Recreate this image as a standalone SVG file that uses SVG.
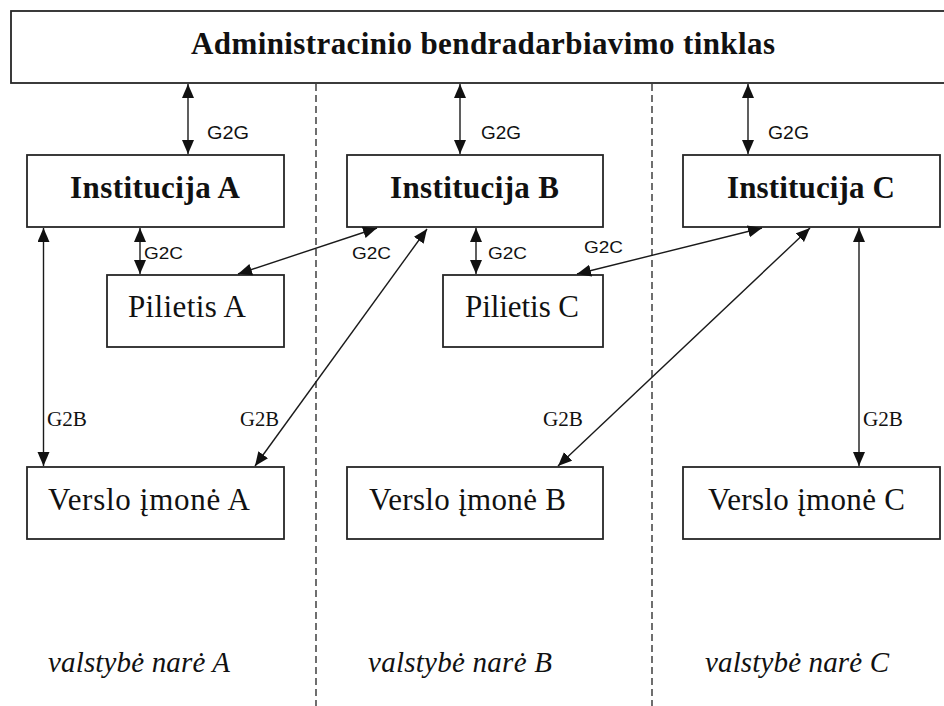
<svg xmlns="http://www.w3.org/2000/svg" width="944" height="706" viewBox="0 0 944 706">
  <style>
    .box { fill: #ffffff; stroke: #262626; stroke-width: 1.8; }
    .title { font-family: "Liberation Serif", "Times New Roman", serif; font-size: 31px; font-weight: bold; fill: #111; }
    .inst { font-family: "Liberation Serif", "Times New Roman", serif; font-size: 31px; font-weight: bold; fill: #111; }
    .node { font-family: "Liberation Serif", "Times New Roman", serif; font-size: 31px; fill: #111; }
    .state { font-family: "Liberation Serif", "Times New Roman", serif; font-size: 29px; font-style: italic; fill: #111; }
    .lbl { font-family: "Liberation Sans", Arial, sans-serif; font-size: 17px; fill: #111; }
    .lblg { font-family: "Liberation Sans", Arial, sans-serif; font-size: 19px; fill: #111; }
    .lbls { font-family: "Liberation Serif", "Times New Roman", serif; font-size: 20px; fill: #111; }
    .link { stroke: #1a1a1a; stroke-width: 1.4; fill: none; marker-start: url(#head); marker-end: url(#head); }
    .divider { stroke: #222; stroke-width: 1.3; stroke-dasharray: 7 4; fill: none; }
  </style>
  <defs>
    <marker id="head" markerUnits="userSpaceOnUse" markerWidth="15" markerHeight="13" refX="14" refY="6" orient="auto-start-reverse">
      <path d="M0,0 L14,6 L0,12 Z" fill="#111"/>
    </marker>
  </defs>

  <rect width="944" height="706" fill="#ffffff"/>

  <!-- member-state dividers -->
  <g id="dividers">
    <line class="divider" x1="316" y1="84" x2="316" y2="706"/>
    <line class="divider" x1="652" y1="84" x2="652" y2="706"/>
  </g>

  <!-- network bar -->
  <g id="network">
    <rect class="box" x="11" y="11" width="945" height="72"/>
    <text class="title" x="191" y="54" textLength="584" lengthAdjust="spacing">Administracinio bendradarbiavimo tinklas</text>
  </g>

  <!-- institutions -->
  <g id="institucija-a">
    <rect class="box" x="27" y="155" width="257" height="72"/>
    <text class="inst" x="70" y="198" textLength="170" lengthAdjust="spacing">Institucija A</text>
  </g>
  <g id="institucija-b">
    <rect class="box" x="347" y="155" width="256" height="72"/>
    <text class="inst" x="390" y="198" textLength="169" lengthAdjust="spacing">Institucija B</text>
  </g>
  <g id="institucija-c">
    <rect class="box" x="683" y="155" width="257" height="72"/>
    <text class="inst" x="727" y="198" textLength="168" lengthAdjust="spacing">Institucija C</text>
  </g>

  <!-- citizens -->
  <g id="pilietis-a">
    <rect class="box" x="107" y="275" width="177" height="72"/>
    <text class="node" x="128" y="317" textLength="118" lengthAdjust="spacing">Pilietis A</text>
  </g>
  <g id="pilietis-c">
    <rect class="box" x="443" y="275" width="160" height="72"/>
    <text class="node" x="465" y="317" textLength="114" lengthAdjust="spacing">Pilietis C</text>
  </g>

  <!-- businesses -->
  <g id="verslo-a">
    <rect class="box" x="27" y="467" width="257" height="72"/>
    <text class="node" x="48" y="510" textLength="202" lengthAdjust="spacing">Verslo įmonė A</text>
  </g>
  <g id="verslo-b">
    <rect class="box" x="347" y="467" width="256" height="72"/>
    <text class="node" x="369" y="510" textLength="197" lengthAdjust="spacing">Verslo įmonė B</text>
  </g>
  <g id="verslo-c">
    <rect class="box" x="683" y="467" width="257" height="72"/>
    <text class="node" x="708" y="510" textLength="197" lengthAdjust="spacing">Verslo įmonė C</text>
  </g>

  <!-- connectors -->
  <g id="connectors">
    <line class="link" x1="188" y1="84" x2="188" y2="154"/>
    <line class="link" x1="460" y1="84" x2="460" y2="154"/>
    <line class="link" x1="748" y1="84" x2="748" y2="154"/>

    <line class="link" x1="140" y1="228" x2="140" y2="274"/>
    <line class="link" x1="476" y1="228" x2="476" y2="274"/>
    <line class="link" x1="238" y1="274" x2="377" y2="228"/>
    <line class="link" x1="577" y1="274" x2="762" y2="228"/>

    <line class="link" x1="43.5" y1="228" x2="43.5" y2="466"/>
    <line class="link" x1="859" y1="228" x2="859" y2="466"/>
    <line class="link" x1="255" y1="466" x2="427" y2="229"/>
    <line class="link" x1="558" y1="466" x2="810" y2="228"/>
  </g>

  <!-- connector labels -->
  <g id="labels">
    <text class="lblg" x="207" y="139" textLength="42" lengthAdjust="spacingAndGlyphs">G2G</text>
    <text class="lblg" x="481" y="139" textLength="40" lengthAdjust="spacingAndGlyphs">G2G</text>
    <text class="lblg" x="768" y="139" textLength="41" lengthAdjust="spacingAndGlyphs">G2G</text>

    <text class="lbl" x="144" y="258.5" textLength="39" lengthAdjust="spacingAndGlyphs">G2C</text>
    <text class="lbl" x="352" y="258.5" textLength="39" lengthAdjust="spacingAndGlyphs">G2C</text>
    <text class="lbl" x="488" y="258.5" textLength="39" lengthAdjust="spacingAndGlyphs">G2C</text>
    <text class="lbl" x="584" y="252.5" textLength="39" lengthAdjust="spacingAndGlyphs">G2C</text>

    <text class="lbls" x="47" y="426" textLength="40" lengthAdjust="spacingAndGlyphs">G2B</text>
    <text class="lbls" x="240" y="426" textLength="39" lengthAdjust="spacingAndGlyphs">G2B</text>
    <text class="lbls" x="543" y="426" textLength="40" lengthAdjust="spacingAndGlyphs">G2B</text>
    <text class="lbls" x="863" y="426" textLength="40" lengthAdjust="spacingAndGlyphs">G2B</text>
  </g>

  <!-- member state captions -->
  <g id="captions">
    <text class="state" x="48" y="672" textLength="182" lengthAdjust="spacing">valstybė narė A</text>
    <text class="state" x="368" y="672" textLength="184" lengthAdjust="spacing">valstybė narė B</text>
    <text class="state" x="705" y="672" textLength="184" lengthAdjust="spacing">valstybė narė C</text>
  </g>
</svg>
